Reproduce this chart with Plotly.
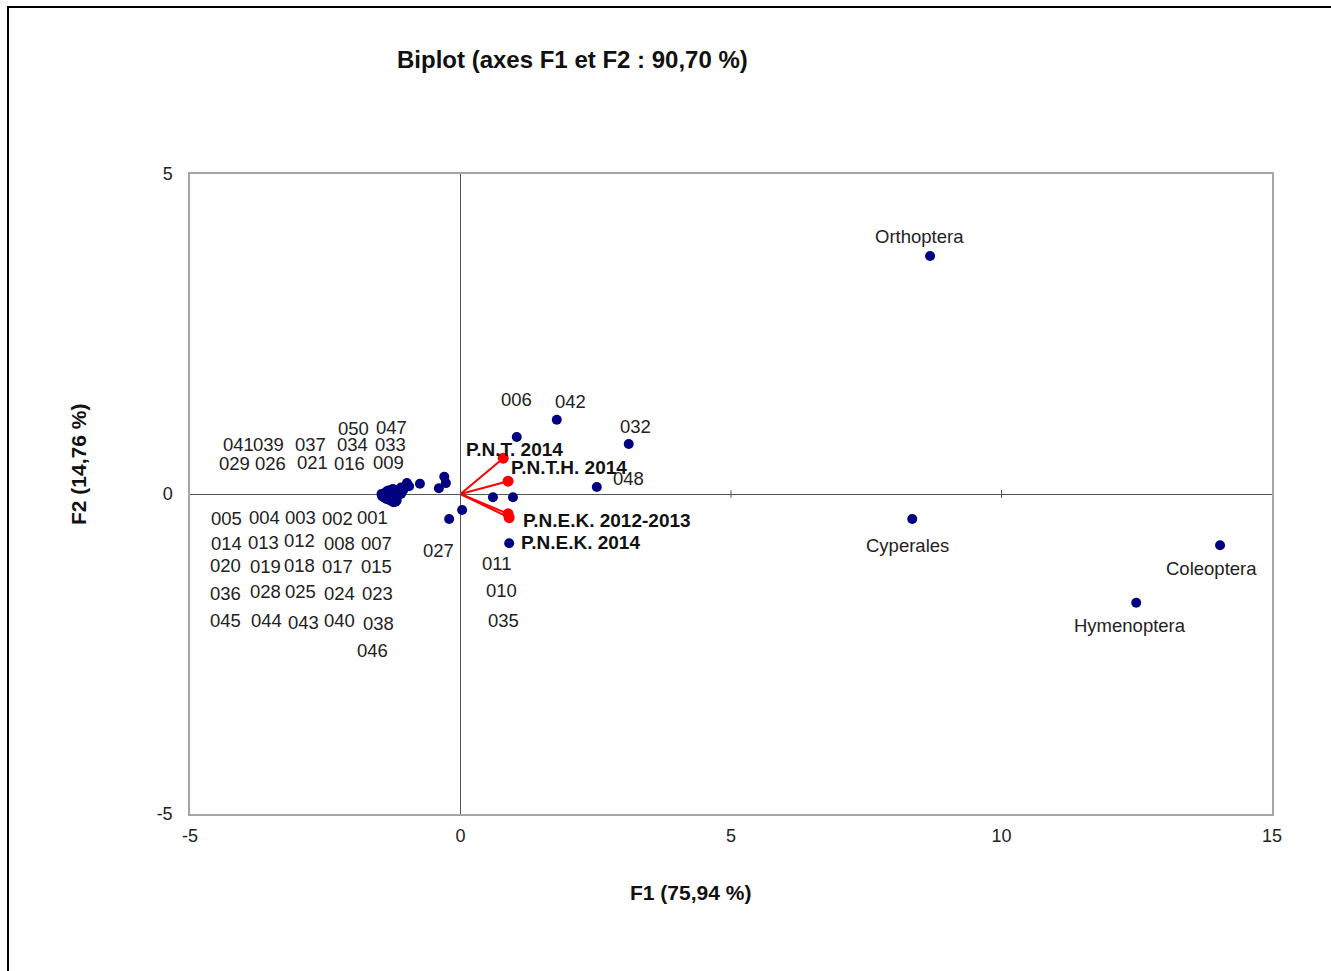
import plotly.graph_objects as go

# ---- Observations (blue points) ----
obs_labels = [
    "050", "047", "033", "009", "034", "016", "021", "037", "039", "041", "026", "029",
    "001", "002", "003", "004", "005", "007", "008", "012", "013", "014",
    "015", "017", "018", "019", "020", "023", "024", "025", "028", "036",
    "038", "040", "043", "044", "045", "046",
    "027", "", "010", "035", "011", "006", "042", "032", "048",
    "Orthoptera", "Cyperales", "Coleoptera", "Hymenoptera",
]
obs_f1 = [
    -0.30, -0.27, -0.40, -0.75, -0.99, -0.95, -1.06, -1.10, -1.25, -1.30, -1.35, -1.28,
    -1.10, -1.15, -1.20, -1.25, -1.30, -1.22, -1.28, -1.35, -1.40, -1.43,
    -1.18, -1.25, -1.32, -1.38, -1.45, -1.20, -1.30, -1.36, -1.40, -1.44,
    -1.22, -1.33, -1.37, -1.41, -1.46, -1.24,
    -0.21, 0.03, 0.60, 0.97, 0.90, 1.04, 1.78, 3.11, 2.52,
    8.68, 8.35, 14.04, 12.49,
]
obs_f2 = [
    0.27, 0.17, 0.09, 0.16, 0.17, 0.12, 0.06, 0.10, 0.08, 0.06, 0.05, 0.03,
    0.00, -0.02, -0.05, -0.03, -0.01, -0.08, -0.06, -0.03, -0.02, -0.01,
    -0.10, -0.09, -0.07, -0.05, -0.03, -0.12, -0.10, -0.08, -0.06, -0.04,
    -0.11, 0.00, 0.02, 0.01, 0.00, -0.13,
    -0.39, -0.25, -0.05, -0.05, -0.77, 0.89, 1.16, 0.78, 0.11,
    3.72, -0.39, -0.80, -1.70,
]
# label placement (axis units), as placed by the original software
obs_lab_f1 = [
    -1.97, -1.28, -1.30, -1.34, -1.99, -2.06, -2.74, -2.78, -3.54, -4.11, -3.52, -4.17,
    -1.62, -2.28, -2.95, -3.63, -4.32, -1.56, -2.23, -2.97, -3.65, -4.33,
    -1.56, -2.28, -2.97, -3.61, -4.35, -1.54, -2.23, -2.95, -3.60, -4.35,
    -1.52, -2.23, -2.91, -3.58, -4.35, -1.62,
    -0.40, 0.03, 0.75, 0.80, 0.67, 1.03, 2.04, 3.24, 3.10,
    8.49, 8.27, 13.89, 12.38,
]
obs_lab_f2 = [
    1.03, 1.04, 0.77, 0.50, 0.77, 0.48, 0.50, 0.78, 0.78, 0.77, 0.47, 0.48,
    -0.37, -0.39, -0.37, -0.36, -0.39, -0.77, -0.77, -0.73, -0.75, -0.77,
    -1.14, -1.14, -1.11, -1.13, -1.11, -1.56, -1.56, -1.53, -1.53, -1.55,
    -2.02, -1.98, -2.00, -1.97, -1.98, -2.44,
    -0.89, -0.25, -1.50, -1.97, -1.08, 1.48, 1.44, 1.06, 0.25,
    4.03, -0.80, -1.16, -2.06,
]

# ---- Variables (red vectors) ----
var_labels = ["P.N.T. 2014", "P.N.T.H. 2014", "P.N.E.K. 2012-2013", "P.N.E.K. 2014"]
var_f1 = [0.79, 0.88, 0.88, 0.90]
var_f2 = [0.56, 0.20, -0.31, -0.37]
var_lab_f1 = [0.99, 2.01, 2.71, 2.21]
var_lab_f2 = [0.69, 0.42, -0.42, -0.75]

x_ticks = [-5, 0, 5, 10, 15]
y_ticks = [-5, 0, 5]

FONT = "Liberation Sans, Arial, sans-serif"

fig = go.Figure()

# red vectors
vx, vy = [], []
for a, b in zip(var_f1, var_f2):
    vx += [0, a, None]
    vy += [0, b, None]
fig.add_trace(go.Scatter(x=vx, y=vy, mode="lines",
                         line=dict(color="#ff0000", width=2), hoverinfo="skip"))

fig.add_trace(go.Scatter(x=obs_f1, y=obs_f2, mode="markers",
                         marker=dict(color="#000080", size=10), text=obs_labels))
fig.add_trace(go.Scatter(x=var_f1, y=var_f2, mode="markers",
                         marker=dict(color="#ff0000", size=11), text=var_labels))

ann = []
for t, x, y in zip(obs_labels, obs_lab_f1, obs_lab_f2):
    if t:
        ann.append(dict(x=x, y=y, xref="x", yref="y", text=t, showarrow=False,
                        xanchor="center", yanchor="middle",
                        font=dict(family=FONT, size=18.5, color="#222222")))
for t, x, y in zip(var_labels, var_lab_f1, var_lab_f2):
    ann.append(dict(x=x, y=y, xref="x", yref="y", text="<b>" + t + "</b>", showarrow=False,
                    xanchor="center", yanchor="middle",
                    font=dict(family=FONT, size=19, color="#111111")))

# titles (placed in paper units relative to the plot area)
ann.append(dict(x=(572 - 190) / 1082, y=(814 - 59) / 640, xref="paper", yref="paper",
                xanchor="center", yanchor="middle",
                text="<b>Biplot (axes F1 et F2 : 90,70 %)</b>", showarrow=False,
                font=dict(family=FONT, size=24, color="#111111")))
ann.append(dict(x=(690 - 190) / 1082, y=(814 - 892) / 640, xref="paper", yref="paper",
                xanchor="center", yanchor="middle",
                text="<b>F1 (75,94 %)</b>", showarrow=False,
                font=dict(family=FONT, size=21, color="#111111")))
ann.append(dict(x=(78 - 190) / 1082, y=(814 - 465) / 640, xref="paper", yref="paper",
                xanchor="center", yanchor="middle",
                text="<b>F2 (14,76 %)</b>", showarrow=False, textangle=-90,
                font=dict(family=FONT, size=21, color="#111111")))
fig.update_layout(annotations=ann)

# outer frame
fig.add_shape(type="rect", xref="paper", yref="paper",
              x0=(8 - 190) / 1082, x1=(1340 - 190) / 1082,
              y0=(814 - 990) / 640, y1=(814 - 7) / 640,
              line=dict(color="#000000", width=2), fillcolor="rgba(0,0,0,0)")
# small ticks on the horizontal zero line
for t in x_ticks[1:-1]:
    fig.add_shape(type="line", xref="x", yref="y", x0=t, x1=t, y0=-0.06, y1=0.06,
                  line=dict(color="#555555", width=1))

fig.update_layout(
    width=1331, height=971,
    margin=dict(l=190, r=59, t=174, b=157),
    paper_bgcolor="white", plot_bgcolor="white",
    showlegend=False,
    font=dict(family=FONT, size=18, color="#222222"),
    xaxis=dict(range=[-5, 15], tickvals=x_ticks, ticktext=[str(v) for v in x_ticks],
               showgrid=False, zeroline=True, zerolinecolor="#555555", zerolinewidth=1,
               showline=True, mirror=True, linecolor="#a6a6a6", linewidth=1.5,
               ticks="", ticklabelstandoff=5, tickfont=dict(size=18, color="#222222")),
    yaxis=dict(range=[-5, 5], tickvals=y_ticks, ticktext=[str(v) for v in y_ticks],
               showgrid=False, zeroline=True, zerolinecolor="#555555", zerolinewidth=1,
               showline=True, mirror=True, linecolor="#a6a6a6", linewidth=1.5,
               ticks="", ticklabelstandoff=12, tickfont=dict(size=18, color="#222222")),
)

fig.write_html("out.html")
